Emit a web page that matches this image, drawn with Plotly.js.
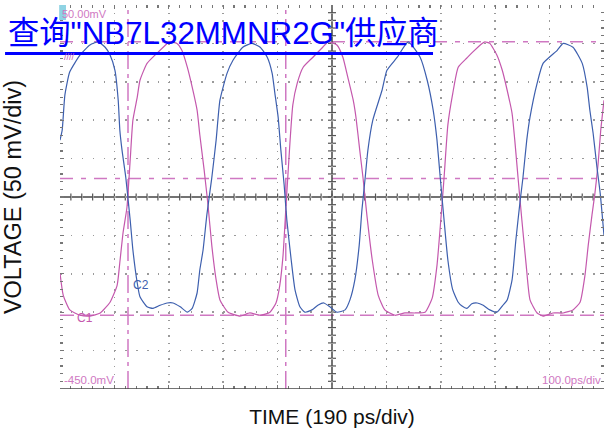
<!DOCTYPE html>
<html>
<head>
<meta charset="utf-8">
<script src="https://cdn.plot.ly/plotly-3.0.1.min.js"></script>
<style>html,body{margin:0;padding:0;background:#fff;}</style>
</head>
<body>
<div id="chart" style="width:605px;height:437px;"></div>
<script>
// Time (ps) and voltage (mV) samples
const blueT = [0,4,9,18,37,55,70,83,92,101,107,110,114,121,129,134,142,147,160,171,184,197,208,221,234,243,252,257,263,270,279,287,294,307,318,336,353,368,381,390,395,401,406,412,417,425,432,441,450,463,474,485,496,509,524,533,542,550,555,561,566,575,592,601,620,640,662,675,686,693,699,706,713,722,732,739,748,757,767,778,790,803,814,822,831,838,846,851,858,864,877,888,914,925,943,960,969,974,980,987,993,1000];
const blueV = [-126,-113,-67,-37,-15,-2,2,-5,-15,-35,-74,-113,-139,-175,-230,-269,-312,-330,-343,-345,-341,-338,-338,-343,-350,-345,-325,-295,-269,-223,-175,-126,-74,-39,-22,-5,0,-5,-18,-39,-65,-96,-139,-184,-230,-282,-321,-343,-350,-347,-341,-338,-343,-350,-347,-334,-308,-263,-217,-175,-139,-100,-61,-35,-18,2,-18,-48,-87,-126,-175,-230,-282,-321,-337,-342,-345,-339,-338,-341,-347,-350,-341,-334,-308,-256,-204,-175,-126,-96,-52,-26,-9,0,-5,-26,-57,-87,-117,-161,-195,-250];
const magT = [0,6,18,37,55,74,92,105,110,116,123,129,134,142,147,160,178,197,202,215,224,234,243,252,257,265,272,279,287,294,309,331,349,368,386,397,404,410,415,419,423,428,436,447,465,483,493,509,520,529,539,544,551,557,564,574,585,597,616,634,653,671,684,693,700,706,713,722,732,748,759,776,781,790,803,813,822,831,836,842,849,857,864,877,888,906,925,943,956,965,971,978,983,989,994,1000];
const magV = [-299,-328,-347,-354,-355,-351,-337,-315,-285,-246,-214,-152,-100,-70,-48,-26,-13,0,2,0,-9,-31,-57,-87,-119,-165,-210,-263,-308,-334,-350,-355,-351,-354,-350,-338,-315,-276,-217,-171,-126,-80,-52,-31,-18,-5,2,-2,-18,-44,-74,-96,-139,-175,-223,-282,-328,-347,-354,-351,-351,-350,-332,-289,-230,-175,-106,-65,-31,-19,-11,0,2,0,-15,-35,-61,-91,-126,-175,-230,-289,-334,-351,-355,-351,-351,-347,-337,-302,-263,-223,-197,-158,-113,-74];
const markerTimes = [125, 415];      // ps
const markerLevels = [2, -176, -354]; // mV
const xRange = [0, 1000];            // ps (100 ps/div)
const yRange = [-450, 50];           // mV (50 mV/div)
const centerT = 500, centerV = -200;
const labelTop = '50.00mV', labelBottom = '-450.0mV', labelTimebase = '100.0ps/div';
const linkText = '查询"NB7L32MMNR2G"供应商';

const BLUE = '#3d5fae', MAG = '#c458ad', MAGL = '#cf78c2';
const traces = [
  {x: magT, y: magV, type: 'scatter', mode: 'lines', name: 'C1',
   line: {color: MAG, width: 1.2, shape: 'spline', smoothing: 0.5}, hoverinfo: 'skip'},
  {x: blueT, y: blueV, type: 'scatter', mode: 'lines', name: 'C2',
   line: {color: BLUE, width: 1.2, shape: 'spline', smoothing: 0.5}, hoverinfo: 'skip'}
];

const shapes = [];
// marker lines
markerLevels.forEach((lv, i) => shapes.push({type: 'line', xref: 'x', yref: 'y', x0: xRange[0], x1: xRange[1], y0: lv, y1: lv,
  line: {color: MAGL, width: 1.5, dash: i === 2 ? '14px,6px' : '13px,8px,5px,8px'}, layer: 'below'}));
markerTimes.forEach(t => shapes.push({type: 'line', xref: 'x', yref: 'y', x0: t, x1: t, y0: yRange[0], y1: yRange[1],
  line: {color: MAGL, width: 1.5, dash: '18px,5px,4px,5px'}, layer: 'below'}));
// center crosshair and bottom edge
shapes.push({type: 'line', xref: 'x', yref: 'y', x0: centerT, x1: centerT, y0: yRange[0], y1: yRange[1], line: {color: '#444', width: 1.5}, layer: 'below'});
shapes.push({type: 'line', xref: 'x', yref: 'y', x0: xRange[0], x1: xRange[1], y0: centerV, y1: centerV, line: {color: '#444', width: 1.5}, layer: 'below'});
shapes.push({type: 'line', xref: 'x', yref: 'y', x0: xRange[0], x1: xRange[1], y0: yRange[0], y1: yRange[0], line: {color: '#444', width: 1.5}});
// minor ticks on the crosshair
const xPerPx = (xRange[1] - xRange[0]) / 544, yPerPx = (yRange[1] - yRange[0]) / 384;
for (let t = xRange[0] + 20; t < xRange[1]; t += 20) {
  shapes.push({type: 'line', xref: 'x', yref: 'y', x0: t, x1: t, y0: centerV - 3.5 * yPerPx, y1: centerV + 3.5 * yPerPx, line: {color: '#555', width: 1.2}, layer: 'below'});
}
for (let v = yRange[0] + 10; v < yRange[1]; v += 10) {
  shapes.push({type: 'line', xref: 'x', yref: 'y', x0: centerT - 4 * xPerPx, x1: centerT + 4 * xPerPx, y0: v, y1: v, line: {color: '#555', width: 1.2}, layer: 'below'});
}
// link underline + channel marker
shapes.push({type: 'line', xref: 'paper', yref: 'paper', x0: -0.101, x1: 0.6857, y0: 0.874, y1: 0.874, line: {color: '#0000ff', width: 3}});
shapes.push({type: 'rect', xref: 'paper', yref: 'paper', x0: -0.0015, x1: 0.011, y0: 0.961, y1: 1, line: {width: 0}, fillcolor: '#8fd3e3'});

const F = 'Liberation Sans, Arial, Noto Sans CJK SC, sans-serif';
const annotations = [
  {text: labelTop, xref: 'paper', yref: 'paper', x: 0.0, y: 0.9766, xanchor: 'left', yanchor: 'middle', showarrow: false, font: {family: F, size: 11, color: MAGL}},
  {text: labelBottom, xref: 'paper', yref: 'paper', x: 0.003, y: 0.0234, xanchor: 'left', yanchor: 'middle', showarrow: false, font: {family: F, size: 11.5, color: MAGL}},
  {text: labelTimebase, xref: 'paper', yref: 'paper', x: 0.999, y: 0.0234, xanchor: 'right', yanchor: 'middle', showarrow: false, font: {family: F, size: 11.5, color: MAGL}},
  {text: 'C1', xref: 'paper', yref: 'paper', x: 0.046, y: 0.185, xanchor: 'center', yanchor: 'middle', showarrow: false, font: {family: F, size: 12, color: MAG}},
  {text: 'C2', xref: 'paper', yref: 'paper', x: 0.149, y: 0.271, xanchor: 'center', yanchor: 'middle', showarrow: false, font: {family: F, size: 12, color: BLUE}},
  {text: '////', xref: 'paper', yref: 'paper', x: 0.018, y: 0.865, xanchor: 'center', yanchor: 'middle', showarrow: false, font: {family: F, size: 9, color: MAG}},
  {text: linkText, xref: 'paper', yref: 'paper', x: -0.1, y: 0.927, xanchor: 'left', yanchor: 'middle', showarrow: false, font: {family: F, size: 31.3, color: '#0000ff'}}
];

const layout = {
  width: 605, height: 437,
  margin: {l: 60, r: 1, t: 5, b: 48, pad: 0},
  paper_bgcolor: '#ffffff', plot_bgcolor: '#ffffff',
  showlegend: false,
  xaxis: {range: xRange, dtick: 100, tick0: 0, showticklabels: false, zeroline: false, showline: false,
    showgrid: true, gridcolor: '#9a9a9a', gridwidth: 1.5, griddash: '1.5px,6.18px',
    ticks: 'inside', ticklen: 4, tickcolor: '#777', tickwidth: 1.2, mirror: 'ticks',
    minor: {ticks: 'inside', dtick: 20, ticklen: 3, tickcolor: '#777', tickwidth: 1.2, showgrid: false},
    title: {text: 'TIME (190 ps/div)', font: {family: F, size: 21, color: '#111'}, standoff: 20}, fixedrange: true},
  yaxis: {range: yRange, dtick: 50, tick0: -450, showticklabels: false, zeroline: false, showline: false,
    showgrid: true, gridcolor: '#9a9a9a', gridwidth: 1.5, griddash: '1.5px,9.38px',
    ticks: 'inside', ticklen: 4, tickcolor: '#777', tickwidth: 1.2, mirror: 'ticks',
    minor: {ticks: 'inside', dtick: 10, ticklen: 3, tickcolor: '#777', tickwidth: 1.2, showgrid: false},
    title: {text: 'VOLTAGE (50 mV/div)', font: {family: F, size: 23.5, color: '#111'}, standoff: 36}, fixedrange: true},
  shapes: shapes,
  annotations: annotations
};
Plotly.newPlot('chart', traces, layout, {staticPlot: true, displayModeBar: false});
</script>
</body>
</html>
